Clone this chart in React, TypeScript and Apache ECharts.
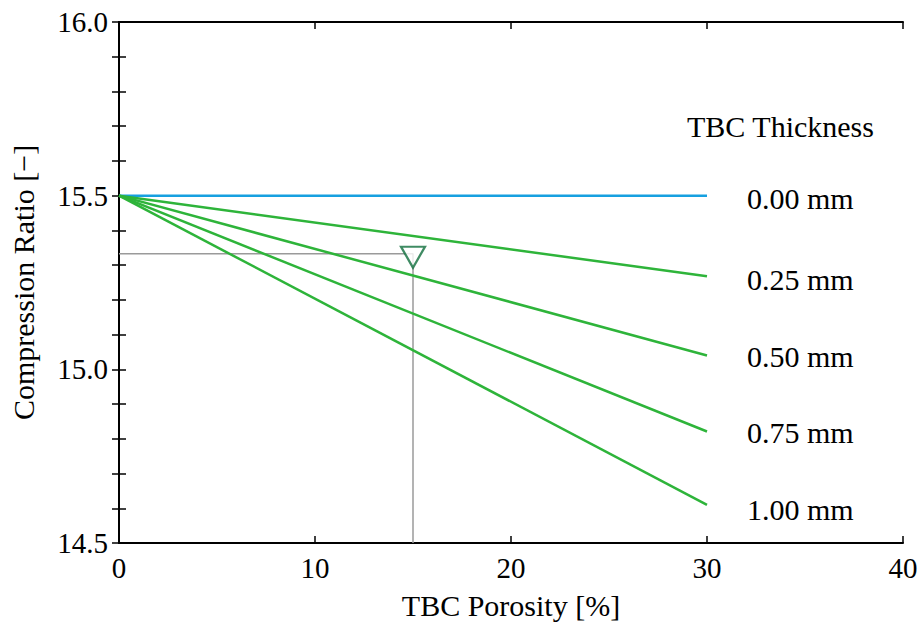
import React, { useEffect, useRef } from "react";
import * as echarts from "echarts";

const porosity = [0, 30];
const thicknessLabels = ["0.00 mm", "0.25 mm", "0.50 mm", "0.75 mm", "1.00 mm"];
const ratioValues = [
  [15.5, 15.5],
  [15.5, 15.268],
  [15.5, 15.04],
  [15.5, 14.821],
  [15.5, 14.61],
];
const lineColors = ["#16a0e0", "#2eb43a", "#2eb43a", "#2eb43a", "#2eb43a"];
const labelOffsets = [3, 3, 1, 1, 5];
const markerPoint = [15, 15.333];
const xTicks = { min: 0, max: 40, interval: 10 };
const yTicks = { min: 14.5, max: 16.0, interval: 0.1 };

const FONT = "'Liberation Serif', 'Times New Roman', serif";

export default function App() {
  const ref = useRef<HTMLDivElement>(null);
  useEffect(() => {
    if (!ref.current) return;
    const chart = echarts.init(ref.current, undefined, { renderer: "svg" });
    const axisLine = { show: true, lineStyle: { color: "#000", width: 2 } };
    const axisTick = { show: true, inside: true, length: 7, lineStyle: { color: "#000", width: 1.5 } };

    const seriesLines = thicknessLabels.map((name, i) => ({
      type: "line",
      name,
      xAxisIndex: 0,
      yAxisIndex: 0,
      showSymbol: false,
      symbol: "none",
      z: 3,
      lineStyle: { color: lineColors[i], width: 2.5 },
      endLabel: {
        show: true,
        distance: 40,
        offset: [0, labelOffsets[i]],
        formatter: name,
        fontFamily: FONT,
        fontSize: 30,
        color: "#000",
      },
      data: porosity.map((p, j) => [p, ratioValues[i][j]]),
    }));

    chart.setOption({
      animation: false,
      backgroundColor: "#fff",
      grid: { left: 118, right: 19, top: 22, bottom: 81, containLabel: false },
      xAxis: [
        {
          type: "value",
          min: xTicks.min,
          max: xTicks.max,
          interval: xTicks.interval,
          name: "TBC Porosity [%]",
          nameLocation: "middle",
          nameGap: 47,
          nameTextStyle: { fontFamily: FONT, fontSize: 30, color: "#000" },
          axisLine,
          axisTick,
          splitLine: { show: false },
          axisLabel: { fontFamily: FONT, fontSize: 29, color: "#000", margin: 10 },
        },
        {
          type: "value",
          position: "top",
          min: xTicks.min,
          max: xTicks.max,
          interval: xTicks.interval,
          axisLine,
          axisTick,
          splitLine: { show: false },
          axisLabel: { show: false },
        },
      ],
      yAxis: [
        {
          type: "value",
          min: yTicks.min,
          max: yTicks.max,
          interval: yTicks.interval,
          name: "Compression Ratio [\u2212]",
          nameLocation: "middle",
          nameGap: 81,
          nameTextStyle: { fontFamily: FONT, fontSize: 30, color: "#000" },
          axisLine,
          axisTick,
          splitLine: { show: false },
          axisLabel: {
            fontFamily: FONT,
            fontSize: 29,
            color: "#000",
            margin: 11,
            formatter: (v: number) => {
              const r = Math.round(v * 10);
              return r % 5 === 0 ? (r / 10).toFixed(1) : "";
            },
          },
        },
        {
          type: "value",
          position: "right",
          min: yTicks.min,
          max: yTicks.max,
          interval: yTicks.interval,
          axisLine,
          axisTick,
          splitLine: { show: false },
          axisLabel: { show: false },
        },
      ],
      graphic: [
        {
          type: "text",
          left: 687,
          top: 111,
          style: { text: "TBC Thickness", fontFamily: FONT, fontSize: 30, fill: "#000" },
        },
      ],
      series: [
        ...seriesLines,
        {
          type: "line",
          name: "ref",
          xAxisIndex: 0,
          yAxisIndex: 0,
          symbol: "none",
          z: 2,
          lineStyle: { color: "#9a9a9a", width: 1.5 },
          data: [
            [xTicks.min, markerPoint[1]],
            [markerPoint[0], markerPoint[1]],
            [markerPoint[0], yTicks.min],
          ],
        },
        {
          type: "scatter",
          name: "marker",
          xAxisIndex: 0,
          yAxisIndex: 0,
          z: 5,
          symbol: "triangle",
          symbolRotate: 180,
          symbolSize: [24, 21],
          symbolOffset: [0, 3.5],
          itemStyle: { color: "#fff", borderColor: "#0f6e3c", borderWidth: 2.2 },
          data: [markerPoint],
        },
      ],
    });
    return () => chart.dispose();
  }, []);
  return (
    <div
      ref={ref}
      style={{ position: "absolute", left: 0, top: 0, width: 922, height: 625 }}
    />
  );
}
